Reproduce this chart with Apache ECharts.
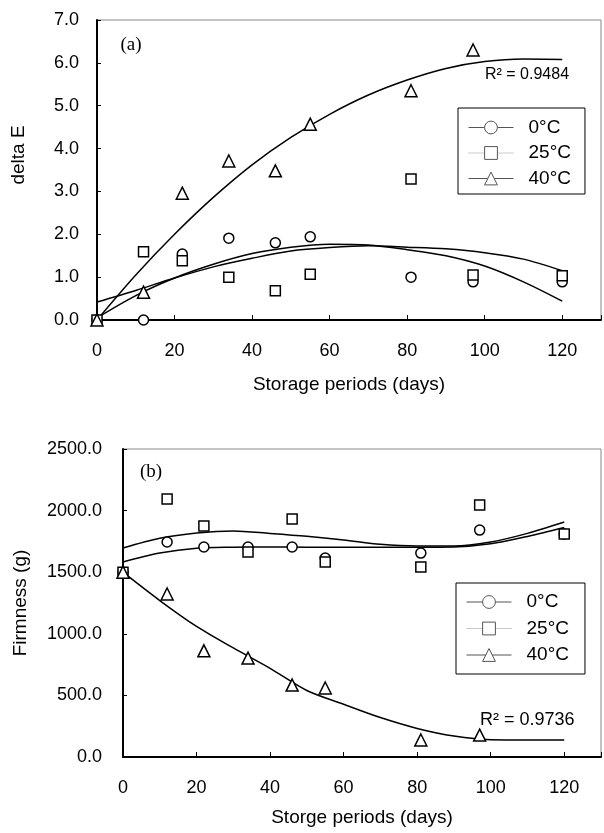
<!DOCTYPE html>
<html lang="en">
<head>
    <meta charset="UTF-8">
    <title>delta E and firmness vs storage period</title>
    <script src="https://cdn.jsdelivr.net/npm/echarts@6/dist/echarts.min.js"></script>
    <style>
        body, html { padding: 0; margin: 0; background: #fff; }
        #chart-panel { width: 604px; height: 833px; }
    </style>
</head>
<body>
    <div id="chart-panel"></div>
    <script>
        // sampling days
        var days = [0, 12, 22, 34, 46, 55, 81, 97, 120];
        var days40 = [0, 12, 22, 34, 46, 55, 81, 97];
        var fitDays = [0, 10, 20, 30, 40, 50, 60, 70, 80, 90, 100, 110, 120];

        // (a) delta E
        var dE0 = [0, 0, 1.54, 1.91, 1.80, 1.94, 1.00, 0.89, 0.89];
        var dE25 = [0, 1.59, 1.38, 1.00, 0.68, 1.07, 3.29, 1.05, 1.03];
        var dE40 = [0, 0.65, 2.96, 3.71, 3.48, 4.57, 5.35, 6.30];
        var dE0Fit = [0.05, 0.57, 0.98, 1.30, 1.55, 1.70, 1.77, 1.75, 1.64, 1.50, 1.26, 0.89, 0.44];
        var dE25Fit = [0.42, 0.69, 0.98, 1.24, 1.44, 1.61, 1.69, 1.73, 1.70, 1.66, 1.57, 1.42, 1.15];
        var dE40Fit = [0, 1.05, 2.00, 2.86, 3.62, 4.26, 4.80, 5.25, 5.60, 5.87, 6.03, 6.09, 6.08];

        // (b) firmness (g)
        var firm0 = [1500, 1745, 1705, 1705, 1705, 1615, 1655, 1842, 1810];
        var firm25 = [1500, 2094, 1875, 1664, 1932, 1583, 1542, 2045, 1810];
        var firm40 = [1500, 1323, 862, 803, 584, 560, 138, 178];
        var firm0Fit = [1583, 1655, 1695, 1703, 1705, 1703, 1703, 1703, 1703, 1705, 1730, 1790, 1862];
        var firm25Fit = [1696, 1775, 1818, 1835, 1815, 1792, 1762, 1726, 1712, 1712, 1745, 1815, 1907];
        var firm40Fit = [1500, 1270, 1060, 885, 720, 540, 428, 320, 232, 170, 140, 138, 138];

        var legendNames = ['0°C', '25°C', '40°C'];
        var symbols = ['circle', 'rect', 'triangle'];

        var FONT = 'Liberation Sans';

        function pairs(xs, ys) {
            return ys.map(function (v, i) { return [xs[i], v]; });
        }

        function pointSeries(name, sym, xs, ys, idx) {
            return {
                name: name, type: 'line', xAxisIndex: idx, yAxisIndex: idx,
                data: pairs(xs, ys),
                symbol: sym, symbolSize: sym === 'triangle' ? 12 : 10,
                showSymbol: true,
                itemStyle: { color: '#fff', borderColor: '#000', borderWidth: 1.5 },
                lineStyle: { opacity: 0 },
                z: 5
            };
        }

        function fitSeries(name, ys, idx) {
            return {
                name: name, type: 'line', xAxisIndex: idx, yAxisIndex: idx,
                data: pairs(fitDays, ys),
                smooth: 0.3, symbol: 'none',
                lineStyle: { color: '#000', width: 1.5 },
                z: 3
            };
        }

        function xAxisOf(idx, name, gap) {
            return {
                type: 'value', gridIndex: idx, min: 0, max: 130, interval: 20,
                name: name, nameLocation: 'middle', nameGap: gap,
                nameTextStyle: { color: '#000', fontSize: 19, fontFamily: FONT },
                axisLine: { lineStyle: { color: '#000', width: 2 } },
                axisTick: { inside: true, length: 5, lineStyle: { color: '#000' } },
                axisLabel: {
                    color: '#000', fontSize: 18, fontFamily: FONT, margin: 22,
                    formatter: function (v) { return v > 120 ? '' : v; }
                },
                splitLine: { show: false }
            };
        }

        function yAxisOf(idx, name, max, interval, gap, pad, margin) {
            return {
                type: 'value', gridIndex: idx, min: 0, max: max, interval: interval,
                name: name, nameLocation: 'middle', nameGap: gap,
                nameTextStyle: { color: '#000', fontSize: 19, fontFamily: FONT, padding: pad },
                axisLine: { lineStyle: { color: '#000', width: 2 } },
                axisTick: { inside: true, length: 4, lineStyle: { color: '#000' } },
                axisLabel: {
                    color: '#000', fontSize: 18, fontFamily: FONT, margin: margin,
                    formatter: function (v) { return v.toFixed(1); }
                },
                splitLine: { show: false }
            };
        }

        function legendItems() {
            var icon = { color: '#fff', borderColor: '#555', borderWidth: 1 };
            return [
                { name: '0°C', itemStyle: icon, lineStyle: { color: '#555', width: 1, type: 'solid', opacity: 1 } },
                { name: '25°C', itemStyle: icon, lineStyle: { color: '#999', width: 1, type: 'dotted', opacity: 1 } },
                { name: '40°C', itemStyle: icon, lineStyle: { color: '#555', width: 1, type: 'solid', opacity: 1 } }
            ];
        }

        function legendOf(left, top, pad, gap) {
            return {
                left: left, top: top, orient: 'vertical',
                data: legendItems(), selectedMode: false,
                itemWidth: 45, itemHeight: 16, itemGap: gap,
                padding: pad,
                borderColor: '#000', borderWidth: 1, backgroundColor: '#fff',
                textStyle: { color: '#000', fontSize: 19, fontFamily: FONT, padding: [0, 0, 0, 10] }
            };
        }

        var series = [
            pointSeries(legendNames[0], symbols[0], days, dE0, 0),
            pointSeries(legendNames[1], symbols[1], days, dE25, 0),
            pointSeries(legendNames[2], symbols[2], days40, dE40, 0),
            fitSeries('fit a 0', dE0Fit, 0),
            fitSeries('fit a 25', dE25Fit, 0),
            fitSeries('fit a 40', dE40Fit, 0),
            pointSeries(legendNames[0], symbols[0], days, firm0, 1),
            pointSeries(legendNames[1], symbols[1], days, firm25, 1),
            pointSeries(legendNames[2], symbols[2], days40, firm40, 1),
            fitSeries('fit b 0', firm0Fit, 1),
            fitSeries('fit b 25', firm25Fit, 1),
            fitSeries('fit b 40', firm40Fit, 1)
        ];

        var option = {
            animation: false,
            backgroundColor: '#fff',
            grid: [
                { left: 97, top: 20, width: 504, height: 300, show: true, borderColor: '#888', borderWidth: 1, backgroundColor: 'transparent' },
                { left: 123, top: 449, width: 488, height: 308, show: true, borderColor: '#888', borderWidth: 1, backgroundColor: 'transparent' }
            ],
            xAxis: [
                xAxisOf(0, 'Storage periods (days)', 55),
                xAxisOf(1, 'Storge periods (days)', 51)
            ],
            yAxis: [
                yAxisOf(0, 'delta E', 7, 1, 69, [0, 0, 0, 30], 18),
                yAxisOf(1, 'Firmness (g)', 2500, 500, 93, 0, 21)
            ],
            legend: [
                legendOf(458, 108, [10, 14, 6, 10], 6.5),
                legendOf(456, 583, [9.5, 16, 9.5, 10], 7.5)
            ],
            graphic: [
                { type: 'text', x: 131, y: 45, style: { text: '(a)', font: '19px "Liberation Serif"', fill: '#000', align: 'center', verticalAlign: 'middle' } },
                { type: 'text', x: 151, y: 472, style: { text: '(b)', font: '19px "Liberation Serif"', fill: '#000', align: 'center', verticalAlign: 'middle' } },
                { type: 'text', x: 485, y: 75, style: { text: 'R² = 0.9484', font: '16px "Liberation Sans"', fill: '#000', verticalAlign: 'middle' } },
                { type: 'text', x: 480, y: 720, style: { text: 'R² = 0.9736', font: '18px "Liberation Sans"', fill: '#000', verticalAlign: 'middle' } }
            ],
            series: series
        };

        var chartVM = echarts.init(document.getElementById('chart-panel'), null, { renderer: 'canvas' });
        chartVM.setOption(option);
    </script>
</body>
</html>
